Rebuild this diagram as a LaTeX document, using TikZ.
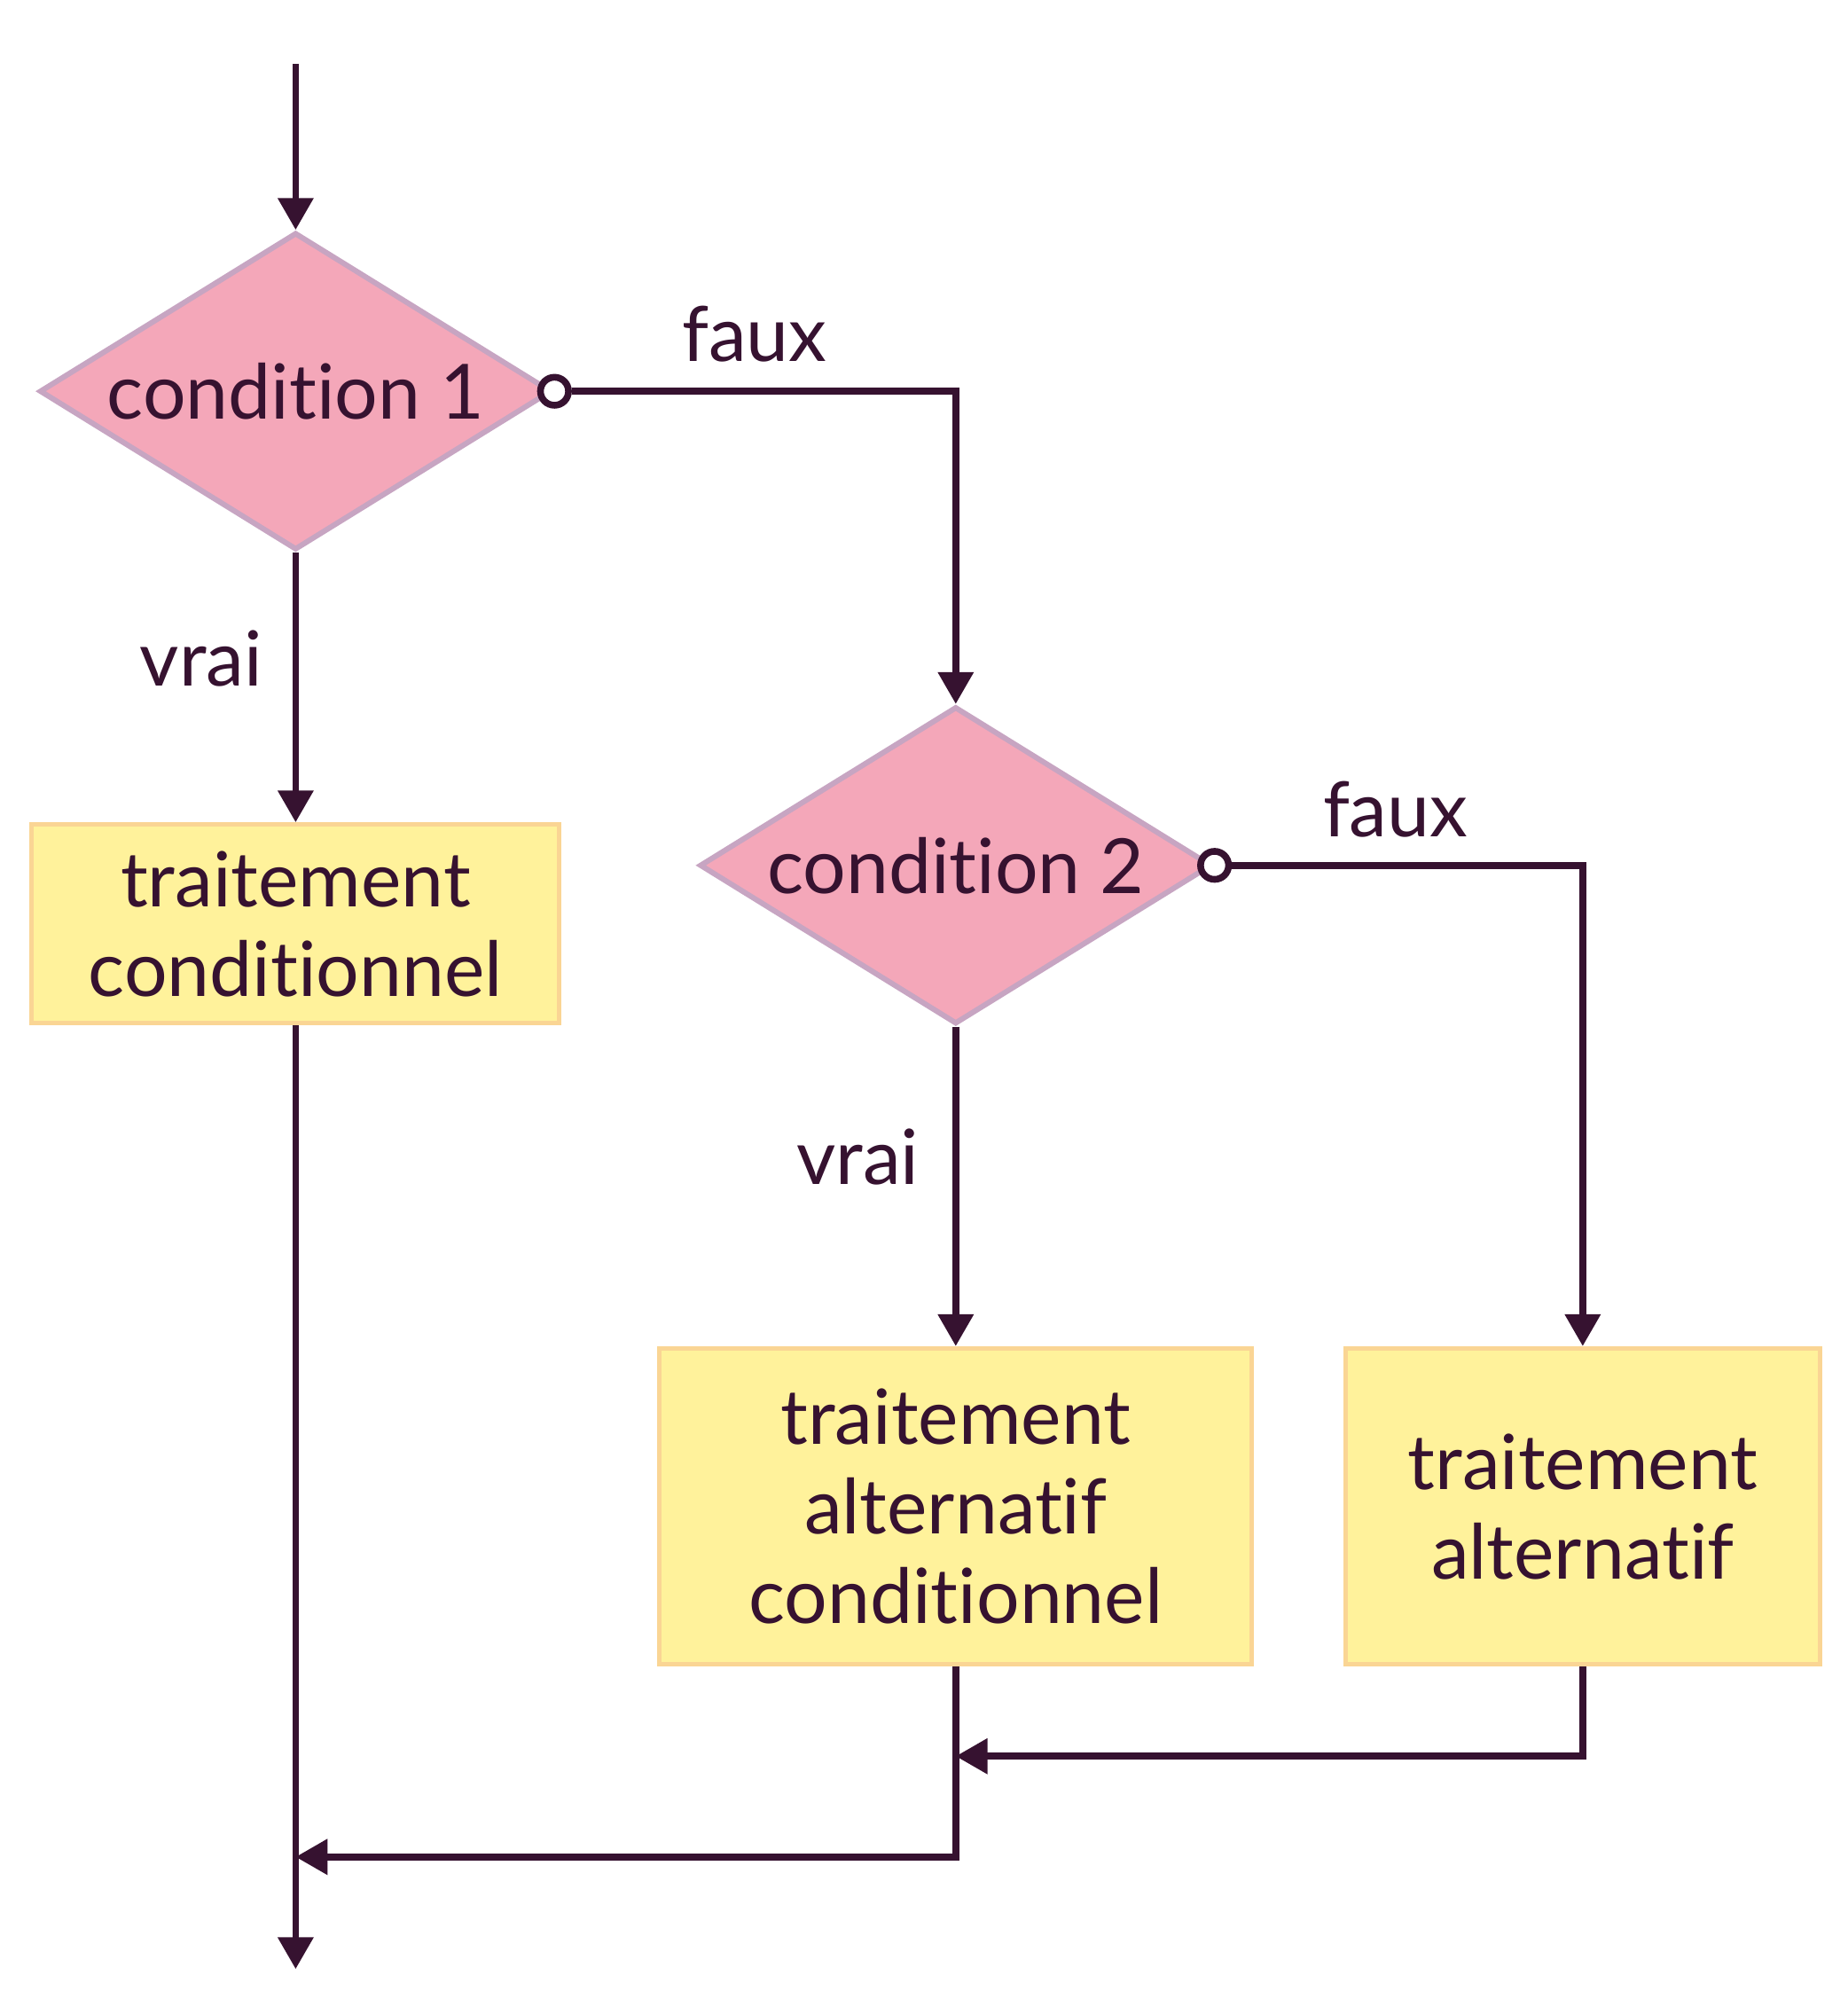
\documentclass[tikz,border=0pt]{standalone}
\usepackage{fontspec}
\setmainfont{Lato}[Ligatures={NoCommon}]
\usepackage{tikz}
\usetikzlibrary{calc,positioning,shapes,arrows.meta}
\definecolor{ink}{HTML}{361230}
\definecolor{condfill}{HTML}{F4A7B9}
\definecolor{condline}{HTML}{C7A5C2}
\definecolor{taskfill}{HTML}{FFF29B}
\definecolor{taskline}{HTML}{FAD594}
\tikzset{
	cond/.style={diamond,aspect=1.61,fill=condfill,draw=condline,line width=1.2pt,inner sep=0pt,minimum width=4.02cm,minimum height=2.49cm},
	task/.style={rectangle,fill=taskfill,draw=taskline,line width=1pt,align=center,inner sep=0pt},
	flow/.style={draw=ink,line width=1.5pt,-{Triangle[length=0.25cm,width=0.27cm]}},
	dot/.style={circle,draw=ink,fill=white,line width=1.5pt,minimum size=0.22cm,inner sep=0pt}
}

\begin{document}
\begin{tikzpicture}[color=ink,font=\fontsize{17}{20}\selectfont]
		\useasboundingbox (0,0) rectangle (14.50,-15.685);
		\coordinate (in) at (2.32,-0.50);
		\node[cond] (c1) at (2.32,-3.07) {condition 1};
		\node[cond] (c2) at (7.50,-6.79) {condition 2};
		\node[dot] (o1) at (c1.east) {};
		\node[dot] (o2) at (c2.east) {};
		\node[task,minimum width=4.14cm,minimum height=1.56cm] (t1) at (2.32,-7.25) {traitement\\conditionnel};
		\node[task,minimum width=4.65cm,minimum height=2.48cm] (t2) at (7.50,-11.82) {traitement\\alternatif\\conditionnel};
		\node[task,minimum width=3.72cm,minimum height=2.48cm] (t3) at (12.42,-11.82) {traitement\\alternatif};
		\node (f1) at (5.92,-2.62) {faux};
		\node (f2) at (10.95,-6.35) {faux};
		\node (v1) at (1.58,-5.17) {vrai};
		\node (v2) at (6.73,-9.08) {vrai};
		\coordinate (m1) at (7.50,-13.78);
		\coordinate (m2) at (2.32,-14.57);
		\coordinate (out) at (2.32,-15.45);
		% arrows
		\draw[flow] (in) -- (c1);
		\draw[flow] (o1) -| (c2);
		\draw[flow] (o2) -| (t3);
		\draw[flow] (c1) -- (t1);
		\draw[flow] (c2) -- (t2);
		\draw[flow] (t1) -- (out);
		\draw[flow] (t3.south) |- (m1);
		\draw[flow] (t2.south) |- (m2);
	\end{tikzpicture}
\end{document}
